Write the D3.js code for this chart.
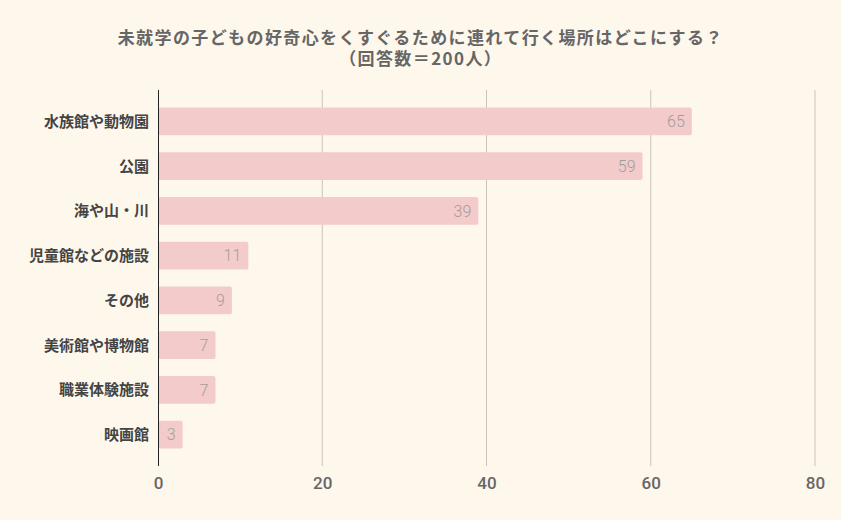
<!DOCTYPE html>
<html><head><meta charset="utf-8">
<script src="https://cdn.jsdelivr.net/npm/d3@7"></script>
<style>
html,body{margin:0;padding:0;background:#fef7ec;}
svg{display:block;font-family:"Noto Sans CJK JP","Noto Sans",sans-serif;}
</style></head>
<body>
<svg id="c" width="841" height="520"></svg>
<script>
const categories = ["水族館や動物園","公園","海や山・川","児童館などの施設","その他","美術館や博物館","職業体験施設","映画館"];
const values = [65,59,39,11,9,7,7,3];
const xTicks = [0,20,40,60,80];
const titleLines = ["未就学の子どもの好奇心をくすぐるために連れて行く場所はどこにする？","（回答数＝200人）"];

const svg = d3.select("#c");
svg.append("rect").attr("width",841).attr("height",520).attr("fill","#fef7ec");

const x = d3.scaleLinear().domain([0,80]).range([158,815]);
const y = d3.scaleBand().domain(categories).range([99,457]).paddingInner(0.375).paddingOuter(0.1875);

// gridlines
svg.append("g").selectAll("line").data(xTicks.slice(1)).join("line")
  .attr("x1",d=>x(d)).attr("x2",d=>x(d)).attr("y1",90).attr("y2",466)
  .attr("stroke","#cbc3ba").attr("stroke-width",1);

// bars
svg.append("g").selectAll("rect").data(values).join("rect")
  .attr("x",x(0)).attr("y",(d,i)=>y(categories[i]))
  .attr("width",d=>x(d)-x(0)).attr("height",y.bandwidth())
  .attr("rx",2).attr("fill","#f3cbcb");

// value labels
svg.append("g").selectAll("text").data(values).join("text")
  .attr("x",d=>x(d)-7).attr("y",(d,i)=>y(categories[i])+y.bandwidth()/2)
  .attr("dy","0.36em").attr("text-anchor","end")
  .attr("font-size",16).attr("fill","#a39d99")
  .attr("font-family","Roboto, 'Noto Sans', sans-serif").attr("font-weight",300)
  .text(d=>d);

// y axis line
svg.append("line").attr("x1",x(0)+0.5).attr("x2",x(0)+0.5).attr("y1",90).attr("y2",466)
  .attr("stroke","#222").attr("stroke-width",1);

// category labels
svg.append("g").selectAll("text").data(categories).join("text")
  .attr("x",149).attr("y",d=>y(d)+y.bandwidth()/2)
  .attr("dy","0.36em").attr("text-anchor","end")
  .attr("font-size",15).attr("font-weight","bold").attr("fill","#444")
  .text(d=>d);

// x axis
const xAxis = d3.axisBottom(x).tickValues(xTicks).tickSize(0).tickPadding(0);
const gx = svg.append("g").attr("transform","translate(0,477)").call(xAxis);
gx.select(".domain").remove();
gx.selectAll("text").attr("font-size",17).attr("fill","#666").attr("font-weight",500)
  .attr("font-family","Roboto, 'Noto Sans', sans-serif").attr("dy","0.71em");

// title (one wrapped text element)
const title = svg.append("text")
  .attr("text-anchor","middle").attr("font-size",17).attr("font-weight","bold")
  .attr("letter-spacing","1.4px").attr("fill","#666");
title.selectAll("tspan").data(titleLines).join("tspan")
  .attr("x",420.7).attr("y",(d,i)=>38+i*21).attr("dy","0.36em")
  .text(d=>d);
</script>
</body></html>
